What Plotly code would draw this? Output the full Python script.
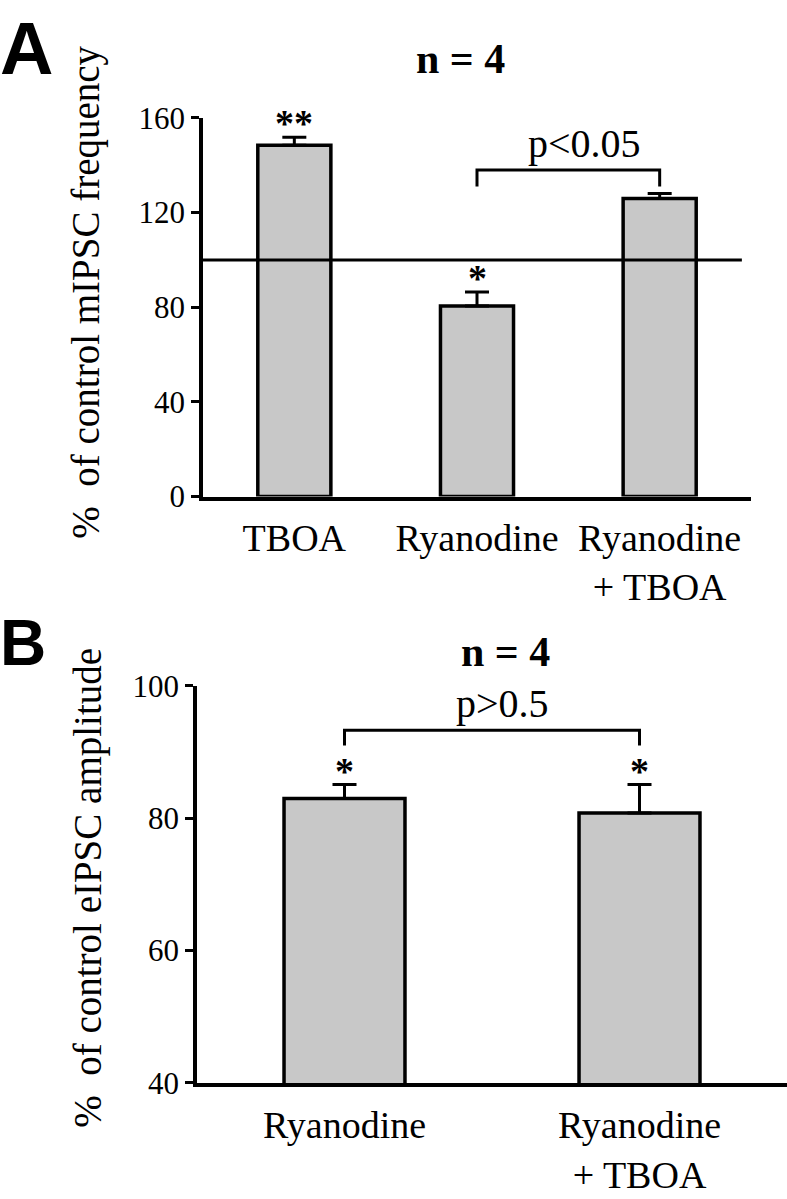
import plotly.graph_objects as go

# ---- data ----
cats_a = ["TBOA", "Ryanodine", "Ryanodine<br>+ TBOA"]
vals_a = [148.5, 80.5, 126.0]
err_a = [3.3, 6.0, 2.1]
stars_a = ["**", "*", ""]
ticks_a = [0, 40, 80, 120, 160]

cats_b = ["Ryanodine", "Ryanodine<br>+ TBOA"]
vals_b = [83.0, 80.8]
err_b = [2.1, 4.3]
stars_b = ["*", "*"]
ticks_b = [40, 60, 80, 100]

ref_line_a = 100
bracket_a = {"from": 1, "to": 2, "top": 138, "leg": 131, "label": "p<0.05"}
bracket_b = {"from": 0, "to": 1, "top": 93.3, "leg": 91, "label": "p>0.5"}

W, H = 787, 1199
SERIF = "Liberation Serif, Times New Roman, serif"
GRAY = "rgb(200,200,200)"
LW = 3.5

fig = go.Figure()

fig.add_trace(go.Bar(
    x=cats_a, y=vals_a, width=0.4,
    marker=dict(color=GRAY, line=dict(color="black", width=LW)),
    error_y=dict(type="data", symmetric=False, array=err_a, arrayminus=[0] * len(err_a),
                 color="black", thickness=3, width=12),
    xaxis="x", yaxis="y", showlegend=False, hoverinfo="skip"))

fig.add_trace(go.Bar(
    x=cats_b, y=vals_b, width=0.41,
    marker=dict(color=GRAY, line=dict(color="black", width=LW)),
    error_y=dict(type="data", symmetric=False, array=err_b, arrayminus=[0] * len(err_b),
                 color="black", thickness=3, width=12),
    xaxis="x2", yaxis="y2", showlegend=False, hoverinfo="skip"))

axis_common = dict(showline=True, linecolor="black", linewidth=LW, showgrid=False,
                   zeroline=False)

fig.update_layout(
    width=W, height=H, autosize=False,
    margin=dict(l=0, r=0, t=0, b=0),
    paper_bgcolor="white", plot_bgcolor="white",
    showlegend=False,
    font=dict(family=SERIF, color="black"),
    xaxis=dict(domain=[203 / W, 751 / W], anchor="y", type="category",
               range=[-0.5, 2.5], ticks="", tickfont=dict(size=38, family=SERIF),
               ticklabelstandoff=5, **axis_common),
    yaxis=dict(domain=[1 - 494 / H, 1 - 104 / H], anchor="x", range=[0, 160],
               tickvals=ticks_a, ticks="outside", ticklen=8, tickwidth=3, tickcolor="black",
               tickfont=dict(size=31, family=SERIF), **axis_common),
    xaxis2=dict(domain=[197 / W, 1.0], anchor="y2", type="category",
                range=[-0.5, 1.5], ticks="", tickfont=dict(size=38, family=SERIF),
                ticklabelstandoff=6, **axis_common),
    yaxis2=dict(domain=[1 - 1098 / H, 1 - 689 / H], anchor="x2", range=[40, 100],
                tickvals=ticks_b, ticks="outside", ticklen=8, tickwidth=3, tickcolor="black",
                tickfont=dict(size=31, family=SERIF), **axis_common),
)

shapes = []
# reference line at 100 %
shapes.append(dict(type="line", xref="x", yref="y", x0=-0.5, x1=2.45,
                   y0=ref_line_a, y1=ref_line_a, line=dict(color="black", width=3)))

annotations = []


def add_bracket(br, xr, yr, label_dx):
    shapes.append(dict(type="path", xref=xr, yref=yr,
                       path=f"M {br['from']},{br['leg']} L {br['from']},{br['top']} "
                            f"L {br['to']},{br['top']} L {br['to']},{br['leg']}",
                       line=dict(color="black", width=3)))
    annotations.append(dict(xref=xr, yref=yr, x=(br["from"] + br["to"]) / 2 + label_dx,
                            y=br["top"], text=br["label"], showarrow=False,
                            yanchor="bottom", yshift=2,
                            font=dict(size=40, family=SERIF)))


add_bracket(bracket_a, "x", "y", 0.09)
add_bracket(bracket_b, "x2", "y2", 0.035)

for i, (v, e, s) in enumerate(zip(vals_a, err_a, stars_a)):
    if s:
        annotations.append(dict(xref="x", yref="y", x=i, y=v + e, text=f"<b>{s}</b>",
                                showarrow=False, yanchor="bottom", yshift=-9,
                                font=dict(size=38, family=SERIF)))
for i, (v, e, s) in enumerate(zip(vals_b, err_b, stars_b)):
    if s:
        annotations.append(dict(xref="x2", yref="y2", x=i, y=v + e, text=f"<b>{s}</b>",
                                showarrow=False, yanchor="bottom", yshift=-10,
                                font=dict(size=38, family=SERIF)))

# n = 4 titles
annotations.append(dict(xref="paper", yref="paper", x=460 / W, y=1 - 43 / H,
                        text="<b>n = 4</b>", showarrow=False, yanchor="middle",
                        font=dict(size=42, family=SERIF)))
annotations.append(dict(xref="paper", yref="paper", x=505 / W, y=1 - 654 / H,
                        text="<b>n = 4</b>", showarrow=False, yanchor="middle",
                        font=dict(size=42, family=SERIF)))

# y-axis titles
annotations.append(dict(xref="paper", yref="paper", x=86 / W, y=1 - 284 / H,
                        text="%\u00a0 of control mIPSC frequency", textangle=-90,
                        showarrow=False, xanchor="center", yanchor="middle",
                        font=dict(size=39, family=SERIF)))
annotations.append(dict(xref="paper", yref="paper", x=88 / W, y=1 - 897 / H,
                        text="%\u00a0 of control eIPSC amplitude", textangle=-90,
                        showarrow=False, xanchor="center", yanchor="middle",
                        font=dict(size=39, family=SERIF)))

# panel letters
annotations.append(dict(xref="paper", yref="paper", x=-2 / W, y=1 + 12 / H, text="<b>A</b>",
                        showarrow=False, xanchor="left", yanchor="top",
                        font=dict(size=74, family="Liberation Sans, Arial, sans-serif")))
annotations.append(dict(xref="paper", yref="paper", x=-2 / W, y=1 - 606 / H, text="<b>B</b>",
                        showarrow=False, xanchor="left", yanchor="top",
                        font=dict(size=64, family="Liberation Sans, Arial, sans-serif")))

fig.update_layout(shapes=shapes, annotations=annotations)
fig.write_html("out.html",
               config={"displayModeBar": False},
               post_script="document.body.style.margin='0';"
                           "document.body.style.overflow='hidden';")
